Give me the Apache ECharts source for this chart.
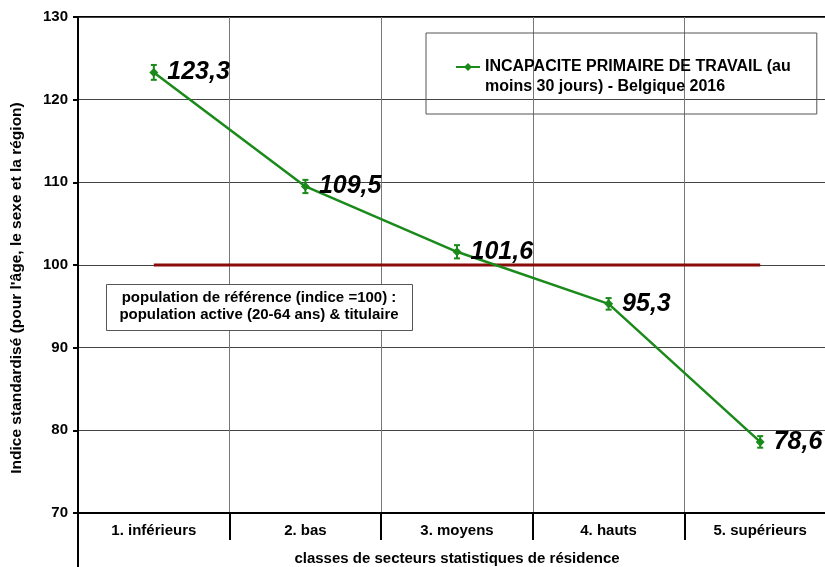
<!DOCTYPE html>
<html>
<head>
<meta charset="utf-8">
<script src="https://cdn.jsdelivr.net/npm/echarts@6/dist/echarts.min.js"></script>
<style>html,body{margin:0;padding:0;background:#fff;overflow:hidden}#c{width:825px;height:567px}</style>
</head>
<body>
<div id="c"></div>
<script>
const categories = ['1. inférieurs', '2. bas', '3. moyens', '4. hauts', '5. supérieurs'];
const values = [123.3, 109.5, 101.6, 95.3, 78.6];
const errLow = [122.4, 108.7, 100.8, 94.6, 77.9];
const errHigh = [124.2, 110.3, 102.4, 96.0, 79.3];
const refValues = [100, 100, 100, 100, 100];
const yTicks = { min: 70, max: 130, interval: 10 };
const seriesName = 'INCAPACITE PRIMAIRE DE TRAVAIL (au moins 30 jours) - Belgique 2016';

const GREEN = '#1a8a1a';
const chart = echarts.init(document.getElementById('c'), null, { renderer: 'canvas' });
const FONT = 'Liberation Sans, Arial, sans-serif';

chart.setOption({
  animation: false,
  backgroundColor: '#fff',
  textStyle: { fontFamily: FONT },
  grid: { left: 78, width: 758, top: 17, height: 496, outerBoundsMode: 'none', containLabel: false,
    show: true, borderColor: '#000', borderWidth: 2 },
  legend: {
    data: [seriesName],
    left: 426, top: 33,
    orient: 'vertical',
    borderColor: '#555', borderWidth: 1,
    padding: [4, 26, 17, 29],
    itemWidth: 24, itemHeight: 10,
    formatter: function () { return '\nINCAPACITE PRIMAIRE DE TRAVAIL (au\nmoins 30 jours) - Belgique 2016'; },
    textStyle: { fontFamily: FONT, fontSize: 16, fontWeight: 'bold', color: '#000', lineHeight: 20 }
  },
  xAxis: {
    type: 'category', data: categories, boundaryGap: true,
    axisLine: { lineStyle: { color: '#000', width: 2 } },
    axisTick: { show: true, interval: 0, length: 27, lineStyle: { color: '#000', width: 2 } },
    axisLabel: { interval: 0, margin: 10, fontFamily: FONT, fontSize: 15, fontWeight: 'bold', color: '#000' },
    splitLine: { show: true, interval: 0, lineStyle: { color: '#777', width: 1 } },
    name: 'classes de secteurs statistiques de résidence', nameLocation: 'middle', nameGap: 38,
    nameTextStyle: { fontFamily: FONT, fontSize: 15, fontWeight: 'bold', color: '#000' }
  },
  yAxis: {
    type: 'value', min: yTicks.min, max: yTicks.max, interval: yTicks.interval,
    axisLine: { show: true, lineStyle: { color: '#000', width: 2 } },
    axisTick: { show: true, length: 5, lineStyle: { color: '#000', width: 2 } },
    axisLabel: { margin: 10, fontFamily: FONT, fontSize: 15, fontWeight: 'bold', color: '#000' },
    splitLine: { show: true, lineStyle: { color: '#444', width: 1 } },
    name: "Indice standardisé (pour l'âge, le sexe et la région)", nameLocation: 'middle', nameGap: 53,
    nameTextStyle: { fontFamily: FONT, fontSize: 15.5, fontWeight: 'bold', color: '#000', padding: [0, 46, 0, 0] }
  },
  graphic: [
    { type: 'line', shape: { x1: 78, y1: 513, x2: 78, y2: 567 }, style: { stroke: '#000', lineWidth: 2 } },
    { type: 'rect', shape: { x: 106.5, y: 284.5, width: 306, height: 46 }, style: { fill: '#fff', stroke: '#555', lineWidth: 1 }, z: 10 },
    { type: 'text', x: 259, y: 306, z: 11,
      style: { text: 'population de référence (indice =100) :\npopulation active (20-64 ans) & titulaire',
        fontFamily: FONT, fontSize: 15, fontWeight: 'bold', fill: '#000', align: 'center', verticalAlign: 'middle', lineHeight: 17 } }
  ],
  series: [
    {
      name: 'ref', type: 'line', data: refValues, symbol: 'none', silent: true,
      lineStyle: { color: '#8B0A0A', width: 3 }, z: 2
    },
    {
      name: seriesName, type: 'line', data: values,
      symbol: 'diamond', symbolSize: 9, color: GREEN,
      lineStyle: { color: GREEN, width: 2.5 }, itemStyle: { color: GREEN },
      label: { show: true, position: 'right', distance: 9, formatter: p => String(p.value).replace('.', ','),
        fontFamily: FONT, fontSize: 25, fontWeight: 'bold', fontStyle: 'italic', color: '#000' },
      z: 5
    },
    {
      name: 'err', type: 'custom', silent: true, z: 6,
      data: categories.map((c, i) => [i, errLow[i], errHigh[i]]),
      renderItem: function (params, api) {
        const lo = api.coord([api.value(0), api.value(1)]);
        const hi = api.coord([api.value(0), api.value(2)]);
        const w = 3;
        const st = { stroke: GREEN, lineWidth: 2 };
        return { type: 'group', children: [
          { type: 'line', shape: { x1: lo[0], y1: lo[1], x2: hi[0], y2: hi[1] }, style: st },
          { type: 'line', shape: { x1: lo[0] - w, y1: lo[1], x2: lo[0] + w, y2: lo[1] }, style: st },
          { type: 'line', shape: { x1: hi[0] - w, y1: hi[1], x2: hi[0] + w, y2: hi[1] }, style: st }
        ] };
      }
    }
  ]
});
</script>
</body>
</html>
